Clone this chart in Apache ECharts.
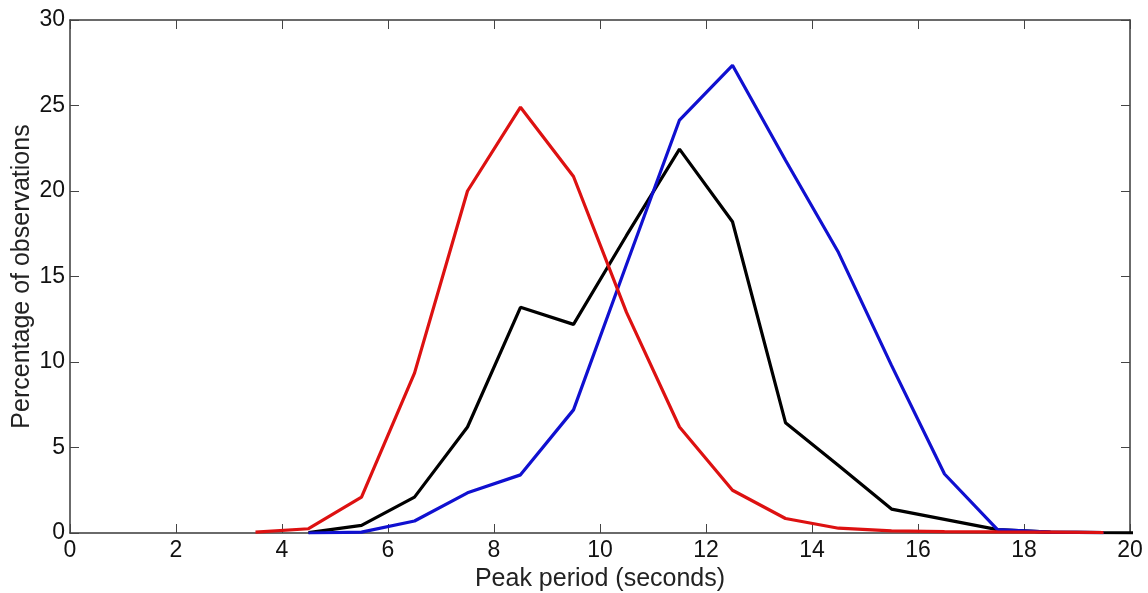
<!DOCTYPE html>
<html>
<head>
<meta charset="utf-8">
<script src="https://cdn.jsdelivr.net/npm/echarts@6/dist/echarts.min.js"></script>
<style>html,body{margin:0;padding:0;background:#fff;}#c{width:1148px;height:593px;}</style>
</head>
<body>
<div id="c"></div>
<script>
const redX = [3.5,4.5,5.5,6.5,7.5,8.5,9.5,10.5,11.5,12.5,13.5,14.5,15.5,16.5,17.5,18.5,19.5];
const redY = [0.05,0.25,2.1,9.35,20.0,24.9,20.85,12.9,6.2,2.5,0.85,0.28,0.12,0.08,0.06,0.05,0.03];
const blackX = [4.5,5.5,6.5,7.5,8.5,9.5,10.5,11.5,12.5,13.5,14.5,15.5,16.5,17.5,18.5,19.5,20.5];
const blackY = [0.02,0.45,2.1,6.2,13.2,12.2,17.4,22.45,18.2,6.45,3.95,1.4,0.8,0.2,0.05,0.02,0.0];
const blueX = [4.5,5.5,6.5,7.5,8.5,9.5,10.5,11.5,12.5,13.5,14.5,15.5,16.5,17.5,18.5,19.5];
const blueY = [0.0,0.05,0.7,2.35,3.4,7.2,15.7,24.15,27.35,21.8,16.4,9.8,3.45,0.2,0.05,0.02];
const xTicks = [0,2,4,6,8,10,12,14,16,18,20];
const yTicks = [0,5,10,15,20,25,30];

const pair = (xs, ys) => xs.map((x, i) => [x, ys[i]]);
const FONT = 'Liberation Sans, Arial, sans-serif';
const axisLineStyle = {color: '#3a3a3a', width: 1.5};

const chart = echarts.init(document.getElementById('c'), null, {renderer: 'canvas'});
const option = {
  animation: false,
  backgroundColor: '#fff',
  grid: {left: 70, right: 18, top: 20, bottom: 60, containLabel: false, outerBoundsMode: 'none'},
  xAxis: [{
    type: 'value', min: xTicks[0], max: xTicks[xTicks.length - 1], interval: 2,
    position: 'bottom',
    name: 'Peak period (seconds)', nameLocation: 'middle', nameGap: 34, nameMoveOverlap: false,
    nameTextStyle: {fontFamily: FONT, fontSize: 25, color: '#222'},
    axisLine: {show: true, onZero: false, lineStyle: axisLineStyle},
    axisTick: {show: true, inside: true, length: 9, lineStyle: {color: '#444', width: 1}},
    axisLabel: {fontFamily: FONT, fontSize: 23, color: '#111', margin: 6},
    splitLine: {show: false}
  }, {
    type: 'value', min: 0, max: 20, interval: 2, position: 'top',
    axisLine: {show: true, onZero: false, lineStyle: axisLineStyle},
    axisTick: {show: true, inside: true, length: 9, lineStyle: {color: '#444', width: 1}},
    axisLabel: {show: false}, splitLine: {show: false}
  }],
  yAxis: [{
    type: 'value', min: yTicks[0], max: yTicks[yTicks.length - 1], interval: 5,
    position: 'left',
    name: 'Percentage of observations', nameLocation: 'middle', nameGap: 35, nameMoveOverlap: false,
    nameTextStyle: {fontFamily: FONT, fontSize: 25, color: '#222'},
    axisLine: {show: true, onZero: false, lineStyle: axisLineStyle},
    axisTick: {show: true, inside: true, length: 9, lineStyle: {color: '#444', width: 1}},
    axisLabel: {fontFamily: FONT, fontSize: 23, color: '#111', margin: 5},
    splitLine: {show: false}
  }, {
    type: 'value', min: 0, max: 30, interval: 5, position: 'right',
    axisLine: {show: true, onZero: false, lineStyle: axisLineStyle},
    axisTick: {show: true, inside: true, length: 9, lineStyle: {color: '#444', width: 1}},
    axisLabel: {show: false}, splitLine: {show: false}
  }],
  series: [
    {type: 'line', name: 'black', data: pair(blackX, blackY), symbol: 'none', clip: true,
     lineStyle: {color: '#000', width: 3.2}, z: 2},
    {type: 'line', name: 'blue', data: pair(blueX, blueY), symbol: 'none', clip: true,
     lineStyle: {color: '#1010d0', width: 3.2}, z: 3},
    {type: 'line', name: 'red', data: pair(redX, redY), symbol: 'none', clip: true,
     lineStyle: {color: '#dd1111', width: 3.2}, z: 4}
  ]
};
chart.setOption(option);
</script>
</body>
</html>
